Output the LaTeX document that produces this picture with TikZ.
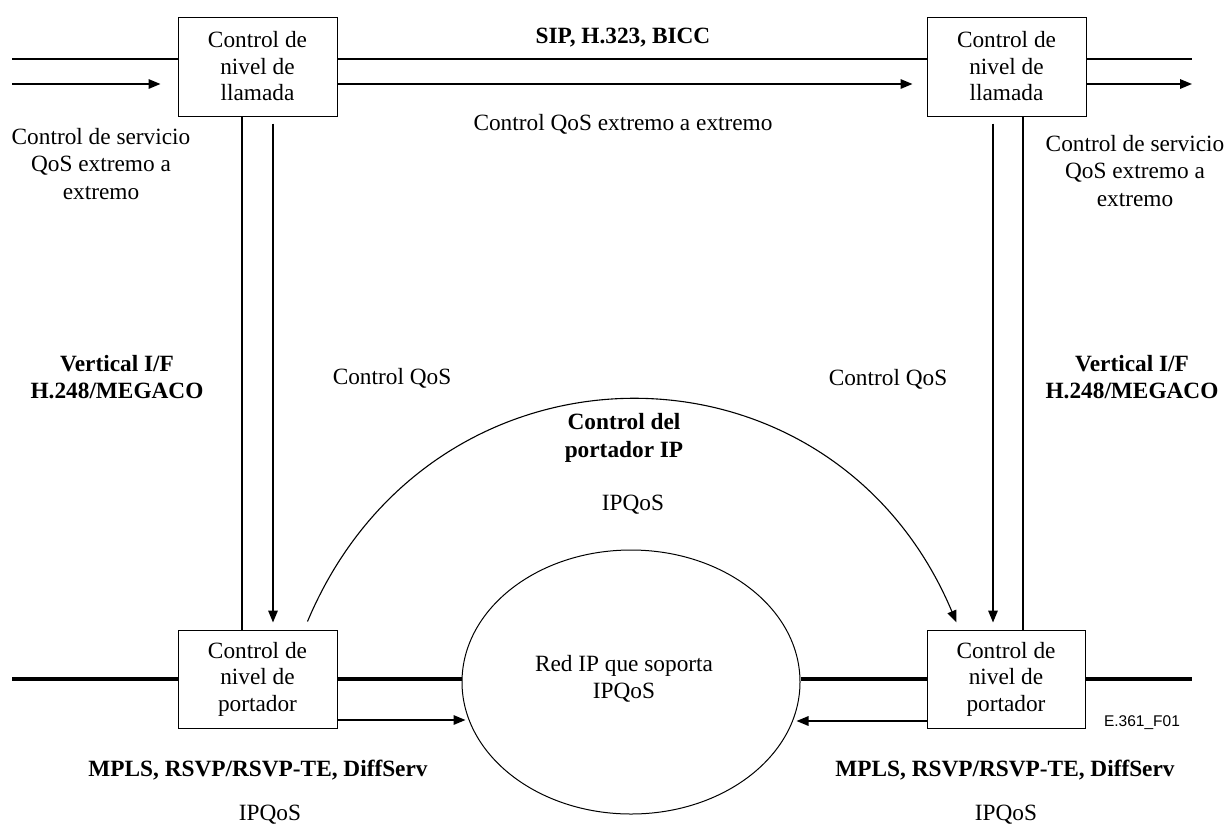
\documentclass[tikz,border=0pt]{standalone}
\usepackage{fontspec}
\setmainfont{Liberation Serif}
\newfontfamily\sansf{Liberation Sans}
\usetikzlibrary{arrows.meta,shapes.geometric}
\tikzset{
  txt/.style={inner sep=0pt, align=center, font=\fontsize{23.3}{27.5}\selectfont},
  btxt/.style={txt, font=\fontsize{23.3}{27.5}\selectfont\bfseries},
  boxn/.style={draw, line width=1pt, minimum width=159pt, minimum height=99pt, inner sep=0pt, align=center, font=\fontsize{23.3}{26.5}\selectfont},
  ln/.style={line width=1.6pt},
  thk/.style={line width=4pt},
  arr/.style={-{Triangle[length=12pt,width=9.5pt]}},
}
\begin{document}
\begin{tikzpicture}[x=1pt,y=-1pt]
\useasboundingbox (0,0) rectangle (1228,828);
% boxes
\node[boxn] (b1) at (257.5,66.5) {Control de\\nivel de\\llamada};
\node[boxn] (b2) at (1006.5,66.5) {Control de\\nivel de\\llamada};
\node[boxn, minimum height=98pt] (b3) at (257.5,679) {Control de\\nivel de\\portador};
\node[boxn, minimum height=98pt, minimum width=158pt] (b4) at (1006,679) {Control de\\nivel de\\portador};
\node[draw, ellipse, line width=1pt, minimum width=338pt, minimum height=264pt, inner sep=0pt] (ell) at (631,682) {};
\node[txt] (elltxt) at (624,679) {Red IP que soporta\\IPQoS};
% end coordinates
\coordinate (tl1) at (12,59);
\coordinate (tl2) at (12,84);
\coordinate (tr1) at (1192,59);
\coordinate (tr2) at (1192,84);
\coordinate (bl) at (12,679);
\coordinate (br) at (1192,679);
% top horizontal lines
\draw[ln] (tl1) -- (tl1 -| b1.west);
\draw[ln,arr] (tl2) -- ([xshift=-17pt]tl2 -| b1.west);
\draw[ln] (tl1 -| b1.east) -- (tl1 -| b2.west);
\draw[ln,arr] (tl2 -| b1.east) -- ([xshift=-14pt]tl2 -| b2.west);
\draw[ln] (tl1 -| b2.east) -- (tr1);
\draw[ln,arr] (tl2 -| b2.east) -- (tr2);
% verticals
\draw[ln] ([xshift=-15.5pt]b1.south) -- ([xshift=-15.5pt]b3.north);
\draw[ln,arr] ([xshift=15.5pt,yshift=-7pt]b1.south) -- ([xshift=15.5pt,yshift=7pt]b3.north);
\draw[ln,arr] ([xshift=-13.5pt,yshift=-7pt]b2.south) -- ([xshift=-13pt,yshift=7pt]b4.north);
\draw[ln] ([xshift=16.5pt]b2.south) -- ([xshift=17pt]b4.north);
% bottom thick lines
\draw[thk] (bl) -- (b3.west);
\draw[thk] (b3.east) -- (b3.east -| ell.west);
\draw[thk] (b4.west -| ell.east) -- (b4.west);
\draw[thk] (b4.east) -- (br);
% bottom arrows into ellipse
\draw[ln,arr] ([yshift=-41pt]b3.east) -- ([xshift=4pt,yshift=-41pt]b3.east -| ell.west);
\draw[ln,arr] ([yshift=-42pt]b4.west) -- ([xshift=-4pt,yshift=-42pt]b4.west -| ell.east);
% arc
\coordinate (arcS) at ([xshift=-30pt,yshift=8pt]b3.north east);
\coordinate (arcE) at ([xshift=30pt,yshift=7pt]b4.north west);
\draw[line width=1.1pt,arr] (arcS) .. controls (432,325) and (832,326) .. (arcE);
% labels
\node[btxt] (sip) at (623,38) {SIP, H.323, BICC};
\node[txt] (cqee) at (623,124) {Control QoS extremo a extremo};
\node[txt] (csl) at (101,164) {Control de servicio\\QoS extremo a\\extremo};
\node[txt] (csr) at (1135,171) {Control de servicio\\QoS extremo a\\extremo};
\node[btxt] (vil) at (117,377) {Vertical I/F\\H.248/MEGACO};
\node[btxt] (vir) at (1132,377) {Vertical I/F\\H.248/MEGACO};
\node[txt] (cql) at (392,378) {Control QoS};
\node[txt] (cqr) at (888,379) {Control QoS};
\node[btxt] (cdp) at (624,438) {Control del\\portador IP};
\node[txt] (ipq) at (633,505) {IPQoS};
\node[btxt] (mpl) at (258,770) {MPLS, RSVP/RSVP-TE, DiffServ};
\node[btxt] (mpr) at (1005,770) {MPLS, RSVP/RSVP-TE, DiffServ};
\node[txt] (ipl) at (270,815) {IPQoS};
\node[txt] (ipr) at (1006,815) {IPQoS};
\node[inner sep=0pt, font=\sansf\fontsize{15.5}{18}\selectfont] (fig) at (1142,723) {E.361\_F01};
\end{tikzpicture}
\end{document}
